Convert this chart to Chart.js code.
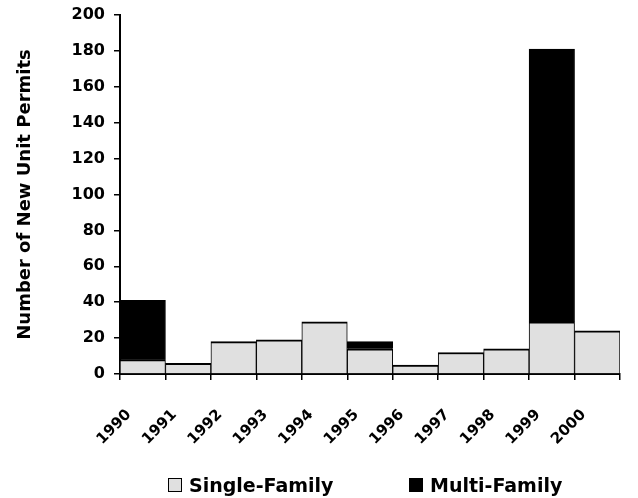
<!DOCTYPE html>
<html>
<head>
<meta charset="utf-8">
<script src="https://cdn.jsdelivr.net/npm/chart.js@4/dist/chart.umd.min.js"></script>
<style>
  body { margin: 0; background: #fff; }
  #wrap { position: relative; width: 638px; height: 498px; }
  #legend { position: absolute; left: 0; top: 476px; width: 638px; height: 18px; font: bold 19px "DejaVu Sans", sans-serif; line-height: 18px; color: #000; }
  #legend span { position: absolute; top: 0; height: 18px; display: flex; align-items: center; white-space: nowrap; }
  #legend i { display: inline-block; width: 12px; height: 12px; border: 1px solid #000; margin-right: 7px; }
</style>
</head>
<body>
<div id="wrap">
  <canvas id="myChart" width="638" height="498"></canvas>
  <div id="legend">
    <span style="left:168px"><i style="background:#e0e0e0"></i>Single-Family</span>
    <span style="left:409px"><i style="background:#000"></i>Multi-Family</span>
  </div>
</div>
<script>
// permits per year
var years = ["1990", "1991", "1992", "1993", "1994", "1995", "1996", "1997", "1998", "1999", "2000"];
var singleFamily = [8, 6, 18, 19, 29, 14, 5, 12, 14, 29, 24];
var multiFamily = [33, 0, 0, 0, 0, 4, 0, 0, 0, 152, 0];
var yTicks = [0, 200, 20];

Chart.defaults.font.family = "'DejaVu Sans', sans-serif";
Chart.defaults.font.weight = "bold";
Chart.defaults.color = "#000";

// bars sit between the year ticks
function toPoints(arr) {
  return arr.map(function (v, i) { return { x: i + 0.5, y: v }; });
}

var ctx = document.getElementById("myChart").getContext("2d");
var myChart = new Chart(ctx, {
  type: "bar",
  data: {
    datasets: [{
      label: "Single-Family",
      data: toPoints(singleFamily),
      backgroundColor: "#e0e0e0",
      borderColor: "#000",
      borderWidth: { top: 2, left: 1, right: 1, bottom: 0 },
      borderSkipped: false,
      stack: "a",
      barPercentage: 1,
      categoryPercentage: 1
    }, {
      label: "Multi-Family",
      data: toPoints(multiFamily),
      backgroundColor: "#000",
      borderColor: "#000",
      borderWidth: 1,
      stack: "a",
      barPercentage: 1,
      categoryPercentage: 1
    }]
  },
  options: {
    responsive: false,
    animation: false,
    layout: { padding: { top: 15, right: 18, bottom: 44, left: 7 } },
    plugins: {
      legend: { display: false },
      tooltip: { enabled: false }
    },
    scales: {
      x: {
        type: "linear",
        min: 0,
        max: years.length,
        offset: false,
        afterFit: function (s) { s.height = 80; s.paddingLeft = 0; s.paddingRight = 0; },
        grid: { offset: false, drawOnChartArea: false, color: "#000", tickLength: 6, lineWidth: 1.5 },
        border: { color: "#000", width: 2 },
        ticks: {
          stepSize: 1,
          autoSkip: false,
          maxRotation: 45,
          minRotation: 45,
          padding: 26,
          labelOffset: 9,
          font: { size: 15, weight: "bold" },
          callback: function (v) { return years[v] || ""; }
        }
      },
      y: {
        stacked: true,
        min: yTicks[0],
        max: yTicks[1],
        afterFit: function (s) { s.width = 113; s.paddingTop = 0; s.paddingBottom = 0; },
        grid: { drawOnChartArea: false, color: "#000", tickLength: 6, lineWidth: 1.5 },
        border: { color: "#000", width: 2 },
        ticks: { stepSize: yTicks[2], padding: 9, font: { size: 16, weight: "bold" } },
        title: { display: true, text: "Number of New Unit Permits", font: { size: 18, weight: "bold" }, padding: { top: 8, bottom: 4 } }
      }
    }
  }
});
</script>
</body>
</html>
